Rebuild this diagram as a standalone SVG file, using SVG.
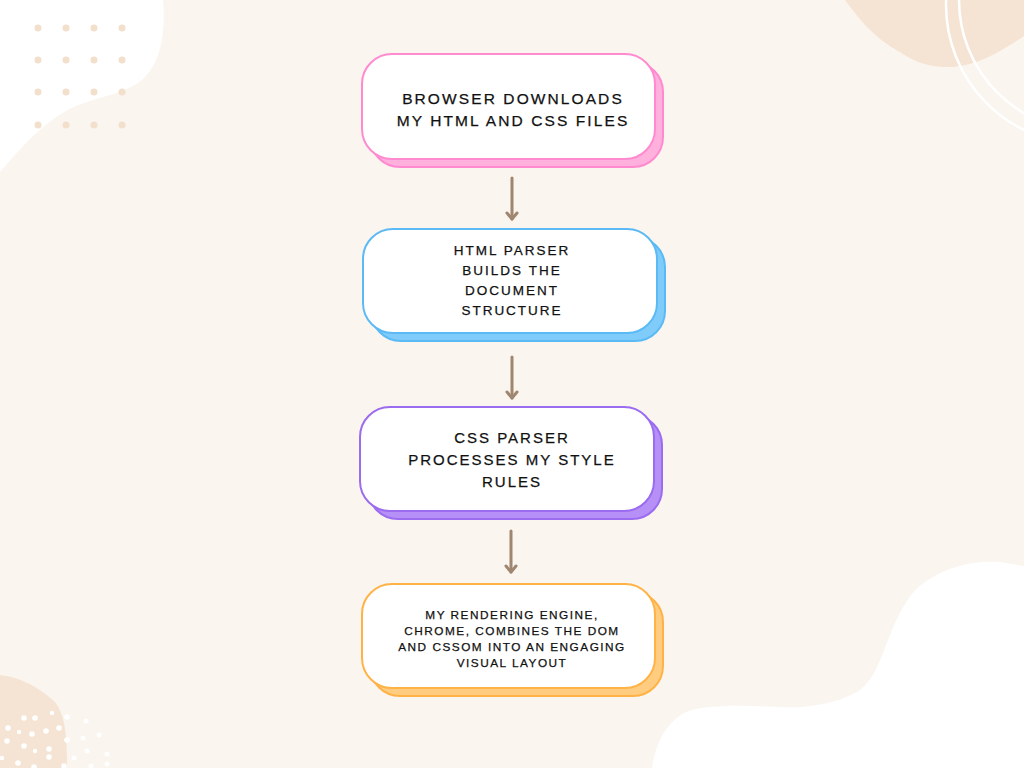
<svg xmlns="http://www.w3.org/2000/svg" width="1024" height="768" viewBox="0 0 1024 768">
<defs>
<style>
.bg{fill:#FAF5EF}
.beige{fill:#F5E4D3}
.wdot{fill:#FFFFFF}
.gdot{fill:#F3E0CC}
.front{fill:#FFFFFF;stroke-width:2}
.back{stroke-width:2}
.t{font-family:"Liberation Sans",Arial,sans-serif;fill:#111111;stroke:#111111;stroke-width:0.25;text-anchor:middle}
.conn{stroke:#A08670;stroke-width:3;fill:none;stroke-linecap:round}
.head{stroke:#A08670;stroke-width:3;fill:none;stroke-linecap:round;stroke-linejoin:round}
</style>
</defs>
<rect class="bg" x="0" y="0" width="1024" height="768"/>
<!-- decorations -->
<path fill="#FFFFFF" d="M0,0 L163,0 C166,35 160,64 142,80 C120,98 85,96 55,118 C32,134 15,155 0,172 Z"/>
<g class="gdot">
<circle cx="38" cy="28" r="3.5"/><circle cx="66" cy="28" r="3.5"/><circle cx="94" cy="28" r="3.5"/><circle cx="122" cy="28" r="3.5"/>
<circle cx="38" cy="60" r="3.5"/><circle cx="66" cy="60" r="3.5"/><circle cx="94" cy="60" r="3.5"/><circle cx="122" cy="60" r="3.5"/>
<circle cx="38" cy="92" r="3.5"/><circle cx="66" cy="92" r="3.5"/><circle cx="94" cy="92" r="3.5"/><circle cx="122" cy="92" r="3.5"/>
<circle cx="38" cy="125" r="3.5"/><circle cx="66" cy="125" r="3.5"/><circle cx="94" cy="125" r="3.5"/><circle cx="122" cy="125" r="3.5"/>
</g>
<path class="beige" d="M845,0 L1024,0 L1024,36 C1000,52 975,67 948,67 C925,67 912,60 900,52 C885,44 868,32 845,0 Z"/>
<circle cx="1085" cy="5" r="139" fill="none" stroke="#FFFFFF" stroke-width="2.5"/>
<circle cx="1090" cy="0" r="131" fill="none" stroke="#FFFFFF" stroke-width="2.5"/>
<path fill="#FFFFFF" d="M652,768 C655,745 665,725 682,714 C700,704 740,705 780,707 C815,709 845,700 860,690 C875,678 880,660 890,635 C900,610 910,592 925,582 C945,568 970,560 1000,562 L1024,566 L1024,768 Z"/>
<path class="beige" d="M0,675 C20,677 40,688 55,702 C65,715 67,735 67,768 L0,768 Z"/>
<g class="wdot">
<circle cx="24" cy="718" r="2.8"/><circle cx="35" cy="718" r="2.8"/><circle cx="52" cy="713" r="2.2"/><circle cx="67" cy="717" r="2.8"/><circle cx="86" cy="721" r="2.5"/>
<circle cx="8" cy="728" r="2.8"/><circle cx="19" cy="732" r="2.2"/><circle cx="32" cy="734" r="2.8"/><circle cx="46" cy="731" r="2.8"/><circle cx="59" cy="728" r="2.8"/><circle cx="99" cy="735" r="2.5"/>
<circle cx="7" cy="741" r="2.8"/><circle cx="24" cy="746" r="2.8"/><circle cx="35" cy="751" r="2.2"/><circle cx="49" cy="749" r="2.8"/><circle cx="67" cy="740" r="2.8"/><circle cx="83" cy="738" r="2.5"/>
<circle cx="87" cy="751" r="2.5"/><circle cx="49" cy="757" r="2.8"/><circle cx="74" cy="758" r="2.5"/><circle cx="107" cy="754" r="2.5"/><circle cx="2" cy="758" r="2.2"/>
<circle cx="18" cy="763" r="2.8"/><circle cx="34" cy="767" r="2.8"/><circle cx="64" cy="766" r="2.8"/><circle cx="91" cy="766" r="2.5"/><circle cx="107" cy="764" r="2.5"/>
</g>
<!-- nodes -->
<g id="node1">
<rect class="back" x="370" y="62" width="293" height="105" rx="30" fill="#FFB0DD" stroke="#FF8AD0"/>
<rect class="front" x="362" y="54" width="293" height="105" rx="30" stroke="#FF8AD0"/>
<text class="t" font-size="15.5" letter-spacing="2.1"><tspan x="513" y="104">BROWSER DOWNLOADS</tspan><tspan x="513" y="126">MY HTML AND CSS FILES</tspan></text>
</g>
<g id="node2">
<rect class="back" x="371" y="237" width="294" height="104" rx="30" fill="#7FCCFA" stroke="#5BBAF5"/>
<rect class="front" x="363" y="229" width="294" height="104" rx="30" stroke="#5BBAF5"/>
<text class="t" font-size="13.5" letter-spacing="2"><tspan x="512" y="255">HTML PARSER</tspan><tspan x="512" y="275">BUILDS THE</tspan><tspan x="512" y="295">DOCUMENT</tspan><tspan x="512" y="315">STRUCTURE</tspan></text>
</g>
<g id="node3">
<rect class="back" x="368" y="415" width="294" height="104" rx="30" fill="#B690F7" stroke="#9B6BF0"/>
<rect class="front" x="360" y="407" width="294" height="104" rx="30" stroke="#9B6BF0"/>
<text class="t" font-size="15" letter-spacing="2"><tspan x="512" y="443">CSS PARSER</tspan><tspan x="512" y="465">PROCESSES MY STYLE</tspan><tspan x="512" y="487">RULES</tspan></text>
</g>
<g id="node4">
<rect class="back" x="370" y="592" width="293" height="104" rx="30" fill="#FFCC80" stroke="#FFB347"/>
<rect class="front" x="362" y="584" width="293" height="104" rx="30" stroke="#FFB347"/>
<text class="t" font-size="11.8" letter-spacing="1.5"><tspan x="512" y="619">MY RENDERING ENGINE,</tspan><tspan x="512" y="635">CHROME, COMBINES THE DOM</tspan><tspan x="512" y="651">AND CSSOM INTO AN ENGAGING</tspan><tspan x="512" y="667">VISUAL LAYOUT</tspan></text>
</g>
<!-- connectors -->
<g id="connectors">
<line class="conn" x1="512" y1="178" x2="512" y2="219"/>
<polyline class="head" points="507,213 512,219 517,213"/>
<line class="conn" x1="512" y1="357" x2="512" y2="398"/>
<polyline class="head" points="507,392 512,398 517,392"/>
<line class="conn" x1="511" y1="531" x2="511" y2="572"/>
<polyline class="head" points="506,566 511,572 516,566"/>
</g>
</svg>
